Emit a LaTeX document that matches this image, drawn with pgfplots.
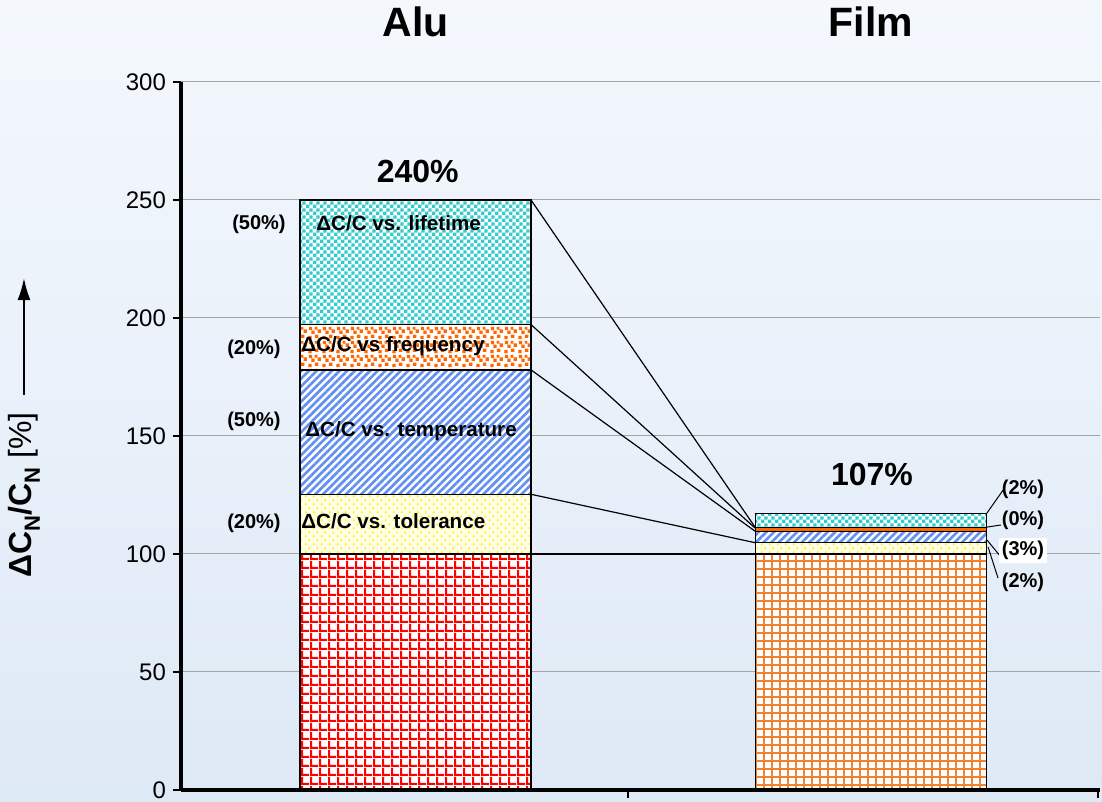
\documentclass[border=0pt]{standalone}
\usepackage{fontspec}
\setmainfont{Liberation Sans}
\usepackage{pgfplots}
\pgfplotsset{compat=1.18}
\usetikzlibrary{patterns,patterns.meta,arrows.meta}

\definecolor{bgtop}{RGB}{244,248,253}
\definecolor{bgbot}{RGB}{222,233,246}
\definecolor{gridc}{RGB}{165,165,165}
\definecolor{tealc}{RGB}{51,204,204}
\definecolor{orangec}{RGB}{255,102,0}
\definecolor{bluec}{RGB}{100,145,240}
\definecolor{yelbg}{RGB}{255,255,232}
\definecolor{yeldot}{RGB}{255,240,0}
\definecolor{redc}{RGB}{255,0,0}
\definecolor{filmc}{RGB}{243,130,48}

\pgfdeclarepattern{
  name=RedGrid, type=uncolored,
  bottom left={\pgfpointorigin}, top right={\pgfpoint{4.3pt}{4.3pt}},
  tile size={\pgfpoint{4.3pt}{4.3pt}},
  code={
    \pgfpathrectangle{\pgfpointorigin}{\pgfpoint{4.3pt}{1.1pt}}
    \pgfpathrectangle{\pgfpointorigin}{\pgfpoint{1.1pt}{4.3pt}}
    \pgfusepath{fill}
  }
}
\pgfdeclarepattern{
  name=FilmGrid, type=uncolored,
  bottom left={\pgfpointorigin}, top right={\pgfpoint{4.2pt}{4.2pt}},
  tile size={\pgfpoint{4.2pt}{4.2pt}},
  code={
    \pgfpathrectangle{\pgfpointorigin}{\pgfpoint{4.2pt}{1.0pt}}
    \pgfpathrectangle{\pgfpointorigin}{\pgfpoint{1.0pt}{4.2pt}}
    \pgfusepath{fill}
  }
}
\pgfdeclarepattern{
  name=TealCheck, type=uncolored,
  bottom left={\pgfpointorigin}, top right={\pgfpoint{3.4pt}{3.4pt}},
  tile size={\pgfpoint{3.4pt}{3.4pt}},
  code={
    \pgfpathrectangle{\pgfpointorigin}{\pgfpoint{1.7pt}{1.7pt}}
    \pgfpathrectangle{\pgfpoint{1.7pt}{1.7pt}}{\pgfpoint{1.7pt}{1.7pt}}
    \pgfusepath{fill}
  }
}
\pgfdeclarepattern{
  name=Confetti, type=uncolored,
  bottom left={\pgfpointorigin}, top right={\pgfpoint{7pt}{7pt}},
  tile size={\pgfpoint{7pt}{7pt}},
  code={
    \pgfpathrectangle{\pgfpoint{0.2pt}{0.4pt}}{\pgfpoint{1.8pt}{1.8pt}}
    \pgfpathrectangle{\pgfpoint{3.7pt}{1.1pt}}{\pgfpoint{1.8pt}{1.8pt}}
    \pgfpathrectangle{\pgfpoint{1.8pt}{3.2pt}}{\pgfpoint{1.8pt}{1.8pt}}
    \pgfpathrectangle{\pgfpoint{5.1pt}{3.8pt}}{\pgfpoint{1.8pt}{1.8pt}}
    \pgfpathrectangle{\pgfpoint{0.5pt}{5.2pt}}{\pgfpoint{1.7pt}{1.7pt}}
    \pgfpathrectangle{\pgfpoint{3.6pt}{5.5pt}}{\pgfpoint{1.4pt}{1.4pt}}
    \pgfusepath{fill}
  }
}
\pgfdeclarepattern{
  name=YelDots, type=uncolored,
  bottom left={\pgfpointorigin}, top right={\pgfpoint{4pt}{4pt}},
  tile size={\pgfpoint{4pt}{4pt}},
  code={
    \pgfpathrectangle{\pgfpoint{0.5pt}{0.5pt}}{\pgfpoint{1pt}{1pt}}
    \pgfpathrectangle{\pgfpoint{2.5pt}{2.5pt}}{\pgfpoint{1pt}{1pt}}
    \pgfusepath{fill}
  }
}

\begin{document}
\begin{tikzpicture}
\shade[top color=bgtop, bottom color=bgbot] (0,0) rectangle (551pt,401pt);
\begin{axis}[
  at={(90.5pt,6pt)}, anchor=south west,
  scale only axis, width=459.5pt, height=354pt,
  xmin=-0.5148, xmax=1.5027, ymin=0, ymax=300,
  axis x line*=bottom, axis y line*=left,
  axis line style={line width=2pt, black},
  ybar stacked, bar width=115.5pt,
  reverse stacked plots=false,
  xtick={0.4665,1.498}, xticklabels={},
  ytick={0,50,...,300},
  tick align=outside, major tick length=4pt,
  tick style={black, line width=1pt},
  ymajorgrids, grid style={gridc, line width=0.5pt},
  /pgf/number format/assume math mode=true,
  yticklabel style={font=\fontsize{12}{14}\selectfont},
  clip=false,
]
% base (Alu)
\addplot[fill=white, draw=black, line width=0.7pt, postaction={pattern=RedGrid, pattern color=redc}] coordinates {(0,100) (1,0)};
% base (Film)
\addplot[fill=white, draw=black, line width=0.7pt, postaction={pattern=FilmGrid, pattern color=filmc}] coordinates {(0,0) (1,100)};
% tolerance
\addplot[fill=yelbg, draw=black, line width=0.7pt, postaction={pattern=YelDots, pattern color=yeldot}] coordinates {(0,25.3) (1,4.8)};
% temperature
\addplot[fill=white, draw=black, line width=0.7pt, postaction={pattern={Lines[angle=45, distance=2.7pt, line width=1.35pt]}, pattern color=bluec}] coordinates {(0,52.7) (1,4.9)};
% frequency (Alu)
\addplot[fill=white, draw=black, line width=0.7pt, postaction={pattern=Confetti, pattern color=orangec}] coordinates {(0,19.2) (1,0)};
% frequency (Film)
\addplot[fill=orangec, draw=black, line width=0.4pt] coordinates {(0,0) (1,1.5)};
% lifetime
\addplot[fill=white, draw=black, line width=0.7pt, postaction={pattern=TealCheck, pattern color=tealc}] coordinates {(0,52.8) (1,6.0)};

% redraw bottom axis line
\draw[line width=2pt, black] (rel axis cs:0,0) -- (rel axis cs:1,0);

% connecting lines
\draw[black, line width=0.6pt] (axis cs:0.2536,250) -- (axis cs:0.7453,111.4);
\draw[black, line width=0.6pt] (axis cs:0.2536,197.2) -- (axis cs:0.7453,111.0);
\draw[black, line width=0.6pt] (axis cs:0.2536,178) -- (axis cs:0.7453,109.7);
\draw[black, line width=0.6pt] (axis cs:0.2536,125.3) -- (axis cs:0.7453,104.8);
\draw[black, line width=0.6pt] (axis cs:0.2536,100) -- (axis cs:0.7453,100);

% leader lines right
\draw[black, line width=0.5pt] (axis cs:1.2547,117.4) -- (axis cs:1.29,127.1);
\draw[black, line width=0.5pt] (axis cs:1.2547,111.4) -- (axis cs:1.2854,112.3);
\draw[black, line width=0.5pt] (axis cs:1.2547,105.9) -- (axis cs:1.2832,99.2);
\draw[black, line width=0.5pt] (axis cs:1.2569,103.0) -- (axis cs:1.2788,89.8);

% titles
\node[anchor=base, inner sep=0pt, font=\fontsize{20.5}{24}\selectfont\bfseries] at (axis cs:0,319.1) {Alu};
\node[anchor=base, inner sep=0pt, font=\fontsize{20.5}{24}\selectfont\bfseries] at (axis cs:1,319.1) {Film};

% totals
\node[anchor=base, inner sep=0pt, font=\fontsize{16}{19}\selectfont\bfseries] at (axis cs:0.005,257.6) {240\%};
\node[anchor=base, inner sep=0pt, font=\fontsize{16}{19}\selectfont\bfseries] at (axis cs:1.002,129.2) {107\%};

% inner labels
\node[anchor=base west, inner sep=0pt, font=\fontsize{10.3}{12}\selectfont\bfseries] at (axis cs:-0.2184,236.9) {ΔC/C vs. lifetime};
\node[anchor=base west, inner sep=0pt, font=\fontsize{10.3}{12}\selectfont\bfseries] at (axis cs:-0.2514,185.6) {ΔC/C vs frequency};
\node[anchor=base west, inner sep=0pt, font=\fontsize{10.3}{12}\selectfont\bfseries] at (axis cs:-0.2426,149.6) {ΔC/C vs. temperature};
\node[anchor=base west, inner sep=0pt, font=\fontsize{10.3}{12}\selectfont\bfseries] at (axis cs:-0.2514,111.0) {ΔC/C vs. tolerance};

% left percentage labels
\node[anchor=base, inner sep=0pt, font=\fontsize{10}{12}\selectfont\bfseries] at (axis cs:-0.3436,237.7) {(50\%)};
\node[anchor=base, inner sep=0pt, font=\fontsize{10}{12}\selectfont\bfseries] at (axis cs:-0.3546,184.7) {(20\%)};
\node[anchor=base, inner sep=0pt, font=\fontsize{10}{12}\selectfont\bfseries] at (axis cs:-0.3546,154.2) {(50\%)};
\node[anchor=base, inner sep=0pt, font=\fontsize{10}{12}\selectfont\bfseries] at (axis cs:-0.3546,111.0) {(20\%)};

% right percentage labels
\node[anchor=base, inner sep=0pt, font=\fontsize{10}{12}\selectfont\bfseries] at (axis cs:1.3337,125.0) {(2\%)};
\node[anchor=base, inner sep=0pt, font=\fontsize{10}{12}\selectfont\bfseries] at (axis cs:1.3337,111.9) {(0\%)};
\node[anchor=base, fill=white, inner sep=1.5pt, font=\fontsize{10}{12}\selectfont\bfseries] at (axis cs:1.3337,99.2) {(3\%)};
\node[anchor=base, inner sep=0pt, font=\fontsize{10}{12}\selectfont\bfseries] at (axis cs:1.3337,86.0) {(2\%)};

% y label with arrow
\node[rotate=90, anchor=base west, inner sep=0pt, font=\fontsize{16}{19}\selectfont] at (axis cs:-0.8419,89.8)
  {\textbf{ΔC\raisebox{-0.25em}{\fontsize{11}{12}\selectfont N}/C\raisebox{-0.25em}{\fontsize{11}{12}\selectfont N}} [\%]};
\draw[black, line width=1pt, -{Latex[length=11pt,width=6.5pt]}] (axis cs:-0.8595,167.4) -- (axis cs:-0.8595,216.9);
\end{axis}
\pgfresetboundingbox
\useasboundingbox (0,0) rectangle (551pt,401pt);
\end{tikzpicture}
\end{document}
